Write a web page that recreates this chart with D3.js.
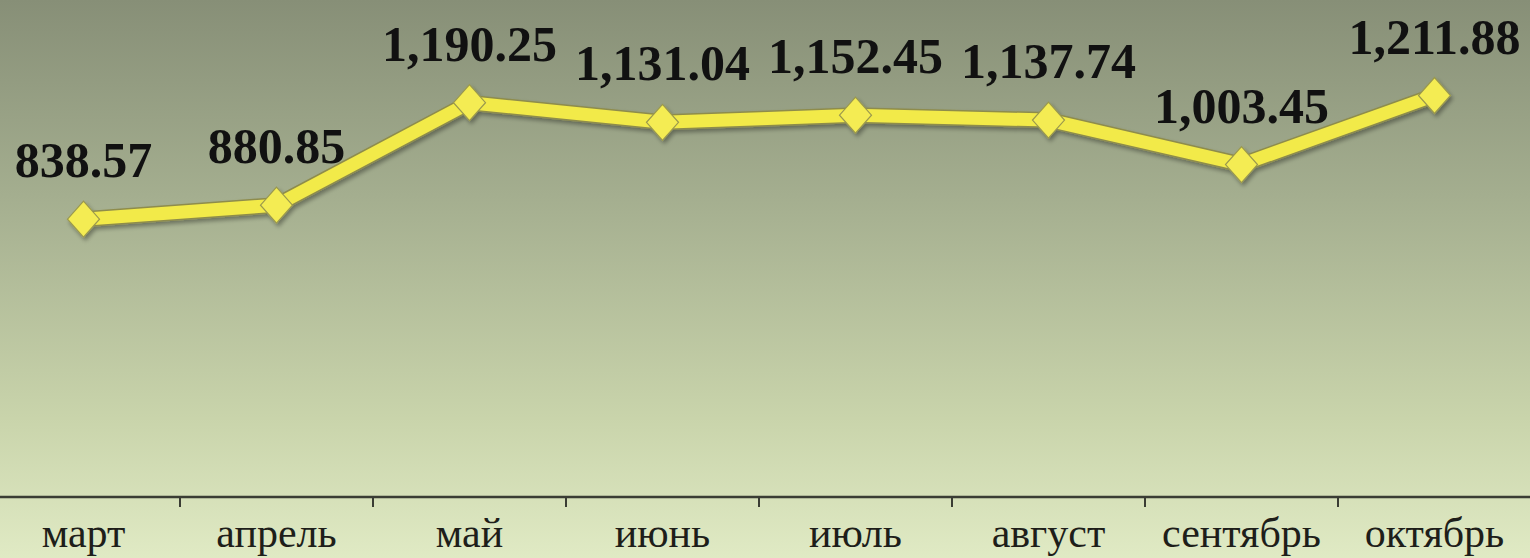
<!DOCTYPE html>
<html>
<head>
<meta charset="utf-8">
<script src="https://cdn.jsdelivr.net/npm/d3@7"></script>
<style>
  html, body { margin: 0; padding: 0; overflow: hidden; }
  svg { display: block; }
</style>
</head>
<body>
<svg id="chart"></svg>
<script>
var months = ['март', 'апрель', 'май', 'июнь', 'июль', 'август', 'сентябрь', 'октябрь'];
var values = [838.57, 880.85, 1190.25, 1131.04, 1152.45, 1137.74, 1003.45, 1211.88];
var y_domain = [0, 1500];

var width = 1530, height = 558;
var axis_y = 497;

var svg = d3.select('#chart')
    .attr('width', width)
    .attr('height', height);

// background gradient, dark grey-green on top to pale green at the bottom
var defs = svg.append('defs');
var grad = defs.append('linearGradient')
    .attr('id', 'bg')
    .attr('x1', 0).attr('y1', 0)
    .attr('x2', 0).attr('y2', 1);
grad.append('stop').attr('offset', '0%').attr('stop-color', '#878f77');
grad.append('stop').attr('offset', '35%').attr('stop-color', '#a4ae8f');
grad.append('stop').attr('offset', '75%').attr('stop-color', '#c9d4ab');
grad.append('stop').attr('offset', '100%').attr('stop-color', '#e0eac4');

var shadow = defs.append('filter')
    .attr('id', 'shadow')
    .attr('x', '-10%').attr('y', '-50%')
    .attr('width', '120%').attr('height', '200%');
shadow.append('feGaussianBlur').attr('in', 'SourceAlpha').attr('stdDeviation', 2).attr('result', 'blur');
shadow.append('feOffset').attr('in', 'blur').attr('dx', 2).attr('dy', 3).attr('result', 'off');
shadow.append('feComponentTransfer').attr('in', 'off').attr('result', 'soft')
    .append('feFuncA').attr('type', 'linear').attr('slope', 0.35);
var merge = shadow.append('feMerge');
merge.append('feMergeNode').attr('in', 'soft');
merge.append('feMergeNode').attr('in', 'SourceGraphic');

svg.append('rect')
    .attr('width', width)
    .attr('height', height)
    .attr('fill', 'url(#bg)');

var x = d3.scaleBand()
    .domain(months)
    .range([-13, 1531]);

var y = d3.scaleLinear()
    .domain(y_domain)
    .range([axis_y, axis_y - (y_domain[1] - y_domain[0]) * 0.3313]);

// x axis: line plus ticks between categories
svg.append('line')
    .attr('x1', 0).attr('x2', width)
    .attr('y1', axis_y).attr('y2', axis_y)
    .attr('stroke', '#3a3d34')
    .attr('stroke-width', 2.5);

svg.selectAll('line.tick-mark')
    .data(months)
    .enter()
    .append('line')
    .attr('class', 'tick-mark')
    .attr('x1', function(d) { return x(d) + x.step(); })
    .attr('x2', function(d) { return x(d) + x.step(); })
    .attr('y1', axis_y)
    .attr('y2', axis_y + 10)
    .attr('stroke', '#3a3d34')
    .attr('stroke-width', 2);

svg.selectAll('text.month')
    .data(months)
    .enter()
    .append('text')
    .attr('class', 'month')
    .attr('x', function(d) { return x(d) + x.bandwidth() / 2; })
    .attr('y', 547)
    .attr('text-anchor', 'middle')
    .style('font-family', '"Liberation Serif", "DejaVu Serif", serif')
    .style('font-size', '42px')
    .style('fill', '#1e1e1a')
    .text(function(d) { return d; });

// the yellow line
var cx = function(d, i) { return x(months[i]) + x.bandwidth() / 2; };
var cy = function(d) { return y(d); };

var line = d3.line().x(cx).y(cy);

var series = svg.append('g').attr('filter', 'url(#shadow)');

series.append('path')
    .datum(values)
    .attr('d', line)
    .attr('fill', 'none')
    .attr('stroke', '#8e8c4c')
    .attr('stroke-width', 16)
    .attr('stroke-linejoin', 'miter');

series.append('path')
    .datum(values)
    .attr('d', line)
    .attr('fill', 'none')
    .attr('stroke', '#f2ea48')
    .attr('stroke-width', 13)
    .attr('stroke-linejoin', 'miter');

var diamond = function(d, i) {
    var px = cx(d, i), py = cy(d);
    return 'M' + px + ',' + (py - 18) + 'L' + (px + 16) + ',' + py +
        'L' + px + ',' + (py + 18) + 'L' + (px - 16) + ',' + py + 'Z';
};

series.selectAll('path.marker')
    .data(values)
    .enter()
    .append('path')
    .attr('class', 'marker')
    .attr('d', diamond)
    .attr('fill', '#f4ec52')
    .attr('stroke', '#9a984e')
    .attr('stroke-width', 1.2);

// value labels
svg.selectAll('text.value')
    .data(values)
    .enter()
    .append('text')
    .attr('class', 'value')
    .attr('x', cx)
    .attr('y', function(d) { return cy(d) - 42; })
    .attr('text-anchor', 'middle')
    .style('font-family', '"Liberation Serif", "Times New Roman", serif')
    .style('font-weight', 'bold')
    .style('font-size', '50px')
    .style('fill', '#111')
    .text(function(d) { return d3.format(',.2f')(d); });
</script>
</body>
</html>
